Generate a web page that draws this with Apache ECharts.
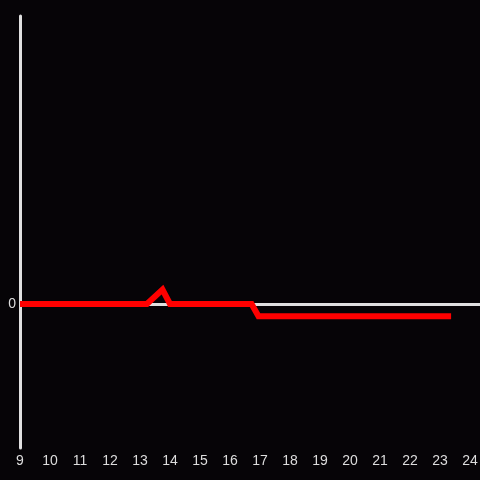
<!DOCTYPE html>
<html><head><meta charset="utf-8">
<script src="https://cdn.jsdelivr.net/npm/echarts@6/dist/echarts.min.js"></script>
<style>html,body{margin:0;padding:0;background:#060407;}#c{width:480px;height:480px;}</style>
</head><body><div id="c"></div>
<script>
const xValues = [9, 13.23, 13.75, 14.0, 16.72, 16.95, 23.37];
const yValues = [0, 0, 0.1, 0, 0, -0.085, -0.085];
const xTicks = [9,10,11,12,13,14,15,16,17,18,19,20,21,22,23,24];
const yTickLabels = ['0'];

const chart = echarts.init(document.getElementById('c'));
chart.setOption({
  backgroundColor: '#060407',
  animation: false,
  grid: {left: 20, right: 0, top: 16, bottom: 32, containLabel: false, outerBoundsMode: 'none'},
  xAxis: {
    type: 'value', min: 9, max: 24.3333, interval: 1,
    axisLine: {show: false}, axisTick: {show: false}, splitLine: {show: false},
    axisLabel: {color: '#dddddd', fontSize: 14, margin: 6, fontFamily: 'Liberation Sans',
      formatter: v => xTicks.includes(v) ? String(v) : '', showMaxLabel: true}
  },
  yAxis: {
    type: 'value', min: -1, max: 2, interval: 1,
    axisLine: {show: true, onZero: false, lineStyle: {color: '#e0e0e0', width: 3}},
    axisTick: {show: false}, splitLine: {show: false},
    axisLabel: {color: '#dddddd', fontSize: 14, margin: 4, fontFamily: 'Liberation Sans',
      formatter: v => yTickLabels.includes(String(v)) ? String(v) : ''}
  },
  series: [{
    type: 'line',
    data: xValues.map((x, i) => [x, yValues[i]]),
    showSymbol: false,
    lineStyle: {color: '#ff0000', width: 6, cap: 'butt', join: 'miter'},
    z: 3,
    markLine: {
      silent: true, symbol: 'none', label: {show: false},
      lineStyle: {color: '#e0e0e0', width: 3, type: 'solid'},
      data: [{yAxis: 0}], z: 2
    }
  }]
});
</script></body></html>
